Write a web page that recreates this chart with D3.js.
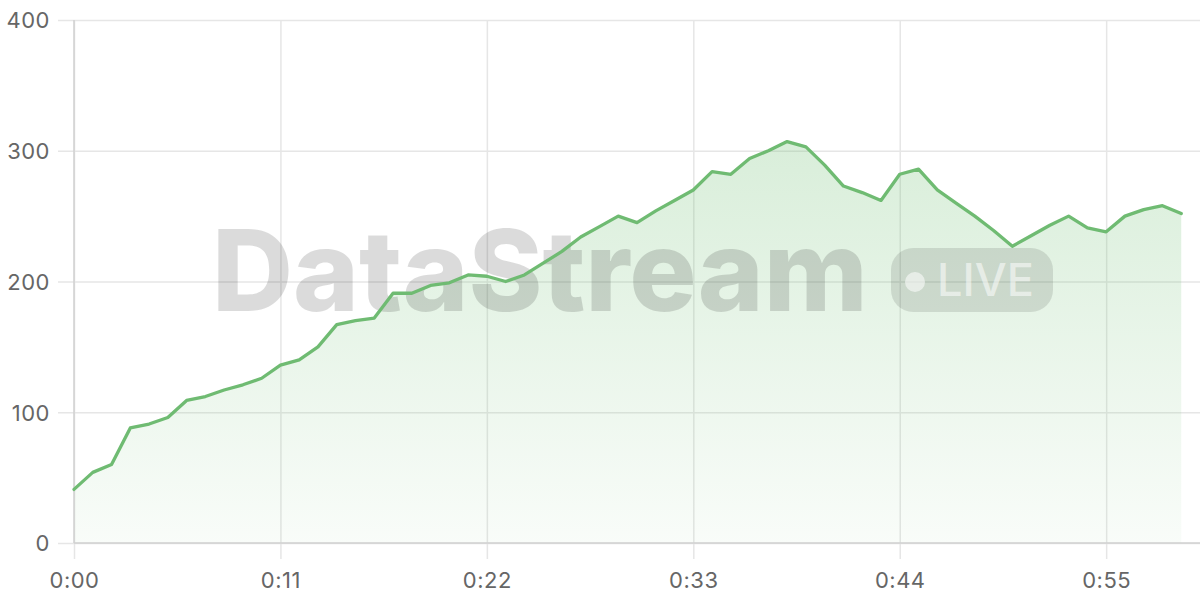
<!DOCTYPE html>
<html><head><meta charset="utf-8">
<script src="https://cdn.jsdelivr.net/npm/d3@7/dist/d3.min.js"></script>
<style>html,body{margin:0;padding:0;background:#fff;}svg{display:block;}</style>
</head><body>
<svg id="chart" width="1200" height="600"></svg>
<script>
const seconds = d3.range(0, 60);
const values = [41,54,60,88,91,96,109,112,117,121,126,136,140,150,167,170,172,191,191,197,199,205,204,200,205,214,223,234,242,250,245,254,262,270,284,282,294,300,307,303,289,273,268,262,282,286,270,260,250,239,227,235,243,250,241,238,250,255,258,252];
const xTicks = [0,11,22,33,44,55];
const yTicks = [0,100,200,300,400];
const watermarkText = "DataStream";
const badgeText = "LIVE";

(function(){
const data = seconds.map((s,i)=>({s, v: values[i]}));
const svg = d3.select("#chart");
const mLeft = 74, mRight = 1200, mTop = 20, mBottom = 543;
const x = d3.scaleLinear().domain([0,60]).range([mLeft,mRight]);
const y = d3.scaleLinear().domain([0,400]).range([mBottom,mTop]);
const fmt = s => Math.floor(s/60) + ":" + String(s%60).padStart(2,"0");
const font = "Inter, 'Noto Sans', sans-serif";

const defs = svg.append("defs");
const grad = defs.append("linearGradient").attr("id","fillGrad")
  .attr("gradientUnits","userSpaceOnUse").attr("x1",0).attr("x2",0)
  .attr("y1", y(d3.max(values))).attr("y2", mBottom);
grad.append("stop").attr("offset","0%").attr("stop-color","#66bb6a").attr("stop-opacity",0.25);
grad.append("stop").attr("offset","100%").attr("stop-color","#66bb6a").attr("stop-opacity",0.04);

const yAxis = d3.axisLeft(y).tickValues(yTicks).tickSize(-(mRight-mLeft)).tickPadding(8).tickFormat(d3.format("d"));
const gy = svg.append("g").attr("transform",`translate(${mLeft},0)`).call(yAxis);
gy.select(".domain").remove();
gy.selectAll(".tick line").attr("stroke","#e6e6e6").attr("stroke-width",1.5).attr("x1",-16);
gy.selectAll(".tick text").attr("x",-24).attr("dy","0.36em").attr("fill","#666")
  .style("font-family",font).style("font-size","22px").style("letter-spacing","0.5px");

const xAxis = d3.axisBottom(x).tickValues(xTicks).tickSize(-(mBottom-mTop)).tickPadding(0).tickFormat(fmt);
const gx = svg.append("g").attr("transform",`translate(0,${mBottom})`).call(xAxis);
gx.select(".domain").remove();
gx.selectAll(".tick line").attr("stroke","#e6e6e6").attr("stroke-width",1.5).attr("y1",16);
gx.selectAll(".tick text").attr("y",45).attr("dy",0).attr("fill","#666")
  .style("font-family",font).style("font-size","22px").style("letter-spacing","0.5px");

svg.append("path").datum(data)
  .attr("d", d3.area().x(d=>x(d.s)).y0(mBottom).y1(d=>y(d.v)))
  .attr("fill","url(#fillGrad)");

svg.append("line").attr("x1",mLeft).attr("x2",mLeft).attr("y1",mTop).attr("y2",mBottom)
  .attr("stroke","#d0d0d0").attr("stroke-width",1.5);
svg.append("line").attr("x1",mLeft).attr("x2",mRight).attr("y1",mBottom).attr("y2",mBottom)
  .attr("stroke","#d0d0d0").attr("stroke-width",1.5);

const wm = svg.append("g");
const wt = wm.append("text").text(watermarkText)
  .attr("x",212).attr("y",311)
  .style("font-family",font).style("font-weight","800").style("font-size","113px")
  .attr("fill","#000").attr("fill-opacity",0.14);
const tw = wt.node().getComputedTextLength();
wt.style("font-size", (113*656/tw).toFixed(1)+"px");
wm.append("rect").attr("x",891).attr("y",248).attr("width",162).attr("height",64).attr("rx",22)
  .attr("fill","#000").attr("fill-opacity",0.11);
wm.append("circle").attr("cx",915).attr("cy",282).attr("r",10)
  .attr("fill","#fff").attr("fill-opacity",0.55);
const lt = wm.append("text").text(badgeText).attr("x",937).attr("y",296)
  .style("font-family",font).style("font-weight","500").style("font-size","45px")
  .attr("fill","#fff").attr("fill-opacity",0.55);
const lw = lt.node().getComputedTextLength();
lt.style("font-size",(45*97/lw).toFixed(1)+"px");

svg.append("path").datum(data)
  .attr("d", d3.line().x(d=>x(d.s)).y(d=>y(d.v)))
  .attr("fill","none").attr("stroke","#6fbb72").attr("stroke-width",3.3)
  .attr("stroke-linejoin","round").attr("stroke-linecap","round");
})();
</script>
</body></html>
